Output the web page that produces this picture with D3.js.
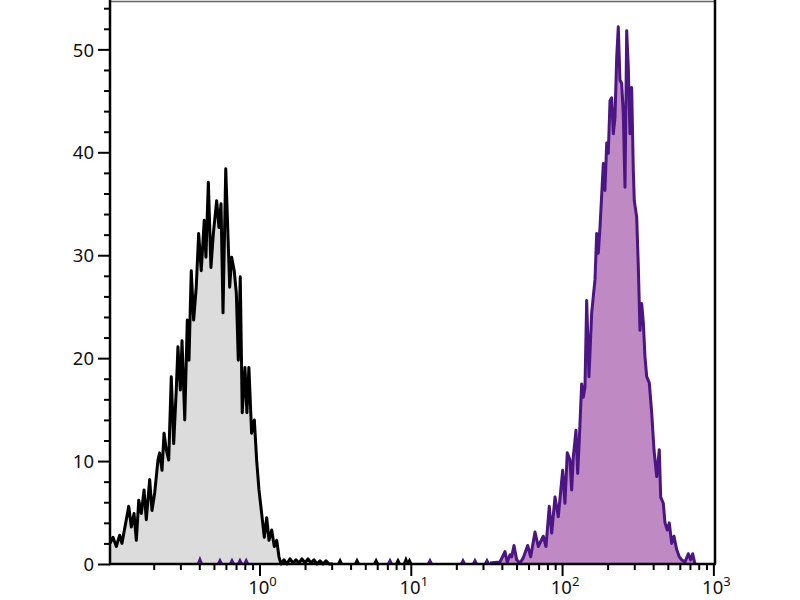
<!DOCTYPE html>
<html><head><meta charset="utf-8">
<script src="https://cdn.jsdelivr.net/npm/d3@7"></script>
<style>body{margin:0;background:#fff}svg{display:block}</style>
</head><body>
<svg id="c" width="800" height="600"></svg>
<script>
// ---- data ----
const grayX = [0.1028,0.1076,0.1132,0.1191,0.1233,0.1317,0.1367,0.1422,0.1482,0.1535,0.1592,0.1656,0.1726,0.1786,0.1880,0.1948,0.2029,0.2133,0.2188,0.2269,0.2339,0.2421,0.2512,0.2612,0.2710,0.2818,0.2891,0.2999,0.3076,0.3206,0.3334,0.3420,0.3540,0.3672,0.3819,0.3963,0.4121,0.4315,0.4426,0.4592,0.4777,0.4955,0.5212,0.5395,0.5568,0.5741,0.5984,0.6166,0.6353,0.6546,0.6808,0.7031,0.7244,0.7464,0.7691,0.8017,0.8260,0.8511,0.8871,0.9247,0.9577,0.9924,1.034,1.076,1.116,1.156,1.2045,1.253,1.300,1.345,1.387,1.452,1.520,1.591,1.665,1.743,1.824,1.909,1.998,2.092,2.190,2.292,2.399,2.511,2.628,2.751,2.880,3.06];
const grayY = [2.0,2.6,1.7,2.8,2.0,4.3,5.6,3.6,4.9,2.3,6.2,4.9,7.2,4.3,8.2,5.2,6.9,10.1,10.8,9.1,12.7,11.1,10.1,18.2,11.7,16.9,21.1,16.9,21.7,14.0,23.7,19.8,28.5,23.7,26.9,32.1,28.5,33.4,29.8,37.1,28.8,32.1,35.3,32.7,35.0,24.4,38.4,32.7,26.9,29.8,28.5,26.3,19.8,27.9,14.7,19.1,14.7,19.1,12.7,14.0,10.1,7.2,4.9,2.6,4.5,2.3,3.3,1.7,2.3,0.7,0,0.4,0,0.5,0.1,0.4,0.1,0.5,0.1,0.5,0.1,0.4,0,0.3,0,0.3,0,0];
const purpleX = [33.38,38.86,41.94,43.43,45.25,46.44,48.10,50.11,52.69,55.41,59.24,62.01,66.22,69.62,75.10,78.26,82.30,85.37,89.77,94.38,100.9,104.5,108.2,112.8,115.7,118.6,123.6,126.8,129.9,134.7,138.1,141.7,145.4,150.6,156.9,160.8,165.0,169.3,173.5,178.1,187.3,192.1,197.2,202.0,207.4,212.8,218.1,223.7,229.6,235.2,241.4,247.7,253.8,260.5,267.3,273.9,281.1,288.4,295.6,300.1,311.3,318.9,327.3,335.9,344.2,353.2,362.5,377.1,391.1,405.0,422.0,439.0,448.5,466.6,478.8,495.9,511.2,530.2,549.1,572.1,595.2,617.4,649.2,682.6,707.9,729.8,755.8];
const purpleY = [0.1,0.2,1.2,0.2,0.9,0.7,1.8,0.4,0.1,0.6,1.8,0.7,3.1,1.7,2.7,1.7,5.6,3.0,6.5,4.6,9.1,5.9,10.8,10.1,7.2,10.4,13.0,8.8,12.0,17.5,16.2,17.2,25.6,18.2,24.4,26.0,27.6,32.1,30.2,32.7,38.9,36.3,40.9,39.9,45.0,45.3,41.8,43.4,49.2,52.2,47.0,46.7,43.8,36.6,51.8,48.3,41.8,46.3,38.3,35.3,33.7,29.0,22.7,25.3,23.5,20.1,18.2,17.6,14.7,11.1,8.5,11.1,6.5,5.9,4.0,3.3,4.0,2.0,2.7,1.4,0.7,0.4,0.2,1.0,0.4,1.0,0];
// isolated single events near the baseline
const grayStrayX = [3.41,4.41,5.9,8.23,9.29,9.8];
const grayStrayY = [0.3,0.3,0.3,0.3,0.4,0.3];
const purpleStrayX = [0.404,0.548,0.658,0.743,0.817,7.29,13.39,22.13,26.56,31.89];
const purpleStrayY = [0.4,0.3,0.3,0.3,0.3,0.3,0.3,0.3,0.3,0.3];
const yMajor = [0,10,20,30,40,50];
const xMajorExp = [0,1,2,3];

// ---- chart ----
const svg = d3.select('#c');
const L=110, R=715, T=1, B=564;
const FONT = 'Noto Sans, sans-serif';
const x = d3.scaleLog().domain([0.1028,1025]).range([L,R]);
const y = d3.scaleLinear().domain([0,54.7]).range([B,T]);

const gray = grayX.map((v,i)=>[v,grayY[i]]);
const purple = purpleX.map((v,i)=>[v,purpleY[i]]);

const area = d3.area().x(d=>x(d[0])).y0(y(0)).y1(d=>y(d[1]));
const line = d3.line().x(d=>x(d[0])).y(d=>y(d[1]));

svg.append('path').attr('d',area(gray)).attr('fill','#dcdcdc');
svg.append('path').attr('d',area(purple)).attr('fill','#bf89c3');
svg.append('path').attr('d',line(gray)).attr('fill','none').attr('stroke','#000').attr('stroke-width',3).attr('stroke-linejoin','round');
svg.append('path').attr('d',line(purple)).attr('fill','none').attr('stroke','#4b1583').attr('stroke-width',3).attr('stroke-linejoin','round');

function strays(xs, ys, col){
  xs.forEach((v,i)=>{
    const cx=x(v);
    svg.append('path')
      .attr('d', d3.line()([[cx-2,y(0)],[cx,y(ys[i])-1],[cx+2,y(0)]]))
      .attr('fill','none').attr('stroke',col).attr('stroke-width',2.2);
  });
}
strays(grayStrayX, grayStrayY, '#000');
strays(purpleStrayX, purpleStrayY, '#4b1583');

// frame: top thin gray, right thick black
svg.append('line').attr('x1',L).attr('x2',R).attr('y1',T+0.5).attr('y2',T+0.5).attr('stroke','#666').attr('stroke-width',1.5);
svg.append('line').attr('x1',R).attr('x2',R).attr('y1',0).attr('y2',B).attr('stroke','#000').attr('stroke-width',2.5);

// y axis
const yMinor = d3.range(0,55,2).filter(v=>v%10!==0);
const gy = svg.append('g').attr('transform',`translate(${L},0)`);
gy.call(d3.axisLeft(y).tickValues(yMinor).tickSize(6).tickFormat(''));
gy.selectAll('.tick line').attr('stroke-width',2);
const gy2 = svg.append('g').attr('transform',`translate(${L},0)`);
gy2.call(d3.axisLeft(y).tickValues(yMajor).tickSize(12).tickPadding(4));
gy2.selectAll('.tick line').attr('stroke-width',2);
gy2.selectAll('.tick text').attr('font-family',FONT).attr('font-size',18.5).attr('fill','#111').attr('dy','0.36em');
svg.selectAll('.domain').remove();
svg.append('line').attr('x1',L).attr('x2',L).attr('y1',0).attr('y2',B+1).attr('stroke','#000').attr('stroke-width',2.5);

// x axis
const xMinor = [];
[-1,0,1,2].forEach(e=>{ for(let m=2;m<=9;m++){ const v=m*Math.pow(10,e); if(v>=0.1028 && v<=1025) xMinor.push(v);} });
const gx = svg.append('g').attr('transform',`translate(0,${B})`);
gx.call(d3.axisBottom(x).tickValues(xMinor).tickSize(6).tickFormat(''));
gx.selectAll('.tick line').attr('stroke-width',2);
const gx2 = svg.append('g').attr('transform',`translate(0,${B})`);
gx2.call(d3.axisBottom(x).tickValues(xMajorExp.map(e=>Math.pow(10,e))).tickSize(12).tickFormat(''));
gx2.selectAll('.tick line').attr('stroke-width',2);
svg.selectAll('.domain').remove();
svg.append('line').attr('x1',L-1).attr('x2',R+1).attr('y1',B).attr('y2',B).attr('stroke','#000').attr('stroke-width',2.5);

xMajorExp.forEach(e=>{
  const t = svg.append('text').attr('x',x(Math.pow(10,e))+3).attr('y',B+30)
    .attr('text-anchor','middle').attr('font-family',FONT).attr('font-size',18.5).attr('fill','#111');
  t.append('tspan').text('10');
  t.append('tspan').attr('dy',-8).attr('font-size',13).text(String(e));
});
</script>
</body></html>
